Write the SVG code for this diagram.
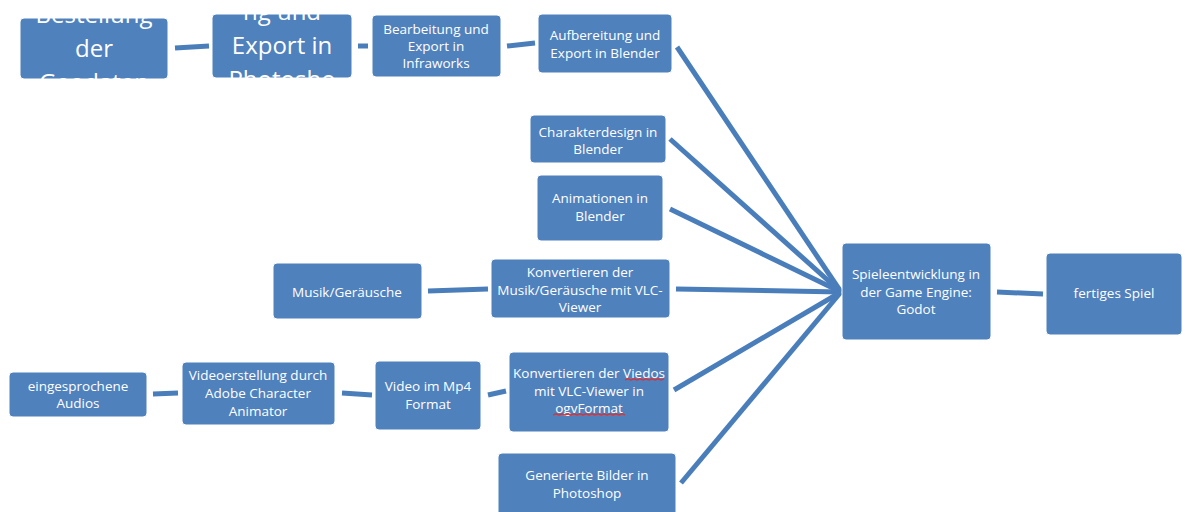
<svg xmlns="http://www.w3.org/2000/svg" width="1192" height="512" viewBox="0 0 1192 512">
<style>
.box{fill:#4F81BD;stroke:#ffffff;stroke-width:1}
.t{font-family:"Open Sans","Liberation Sans",sans-serif;font-size:13.5px;fill:#ffffff;text-anchor:middle}
.big{font-family:"Open Sans","Liberation Sans",sans-serif;font-size:24px;fill:#ffffff;text-anchor:middle}
.c{stroke:#4A7EBB;stroke-width:5;fill:none;stroke-linecap:butt}
.sq{stroke:#e03030;stroke-width:1.3;fill:none}
</style>
<defs>
<clipPath id="clip1"><rect x="20" y="18" width="148" height="61" rx="4"/></clipPath>
<clipPath id="clip2"><rect x="212" y="14" width="140" height="64" rx="4"/></clipPath>
</defs>
<rect width="1192" height="512" fill="#ffffff"/>
<g id="connectors">
<line class="c" x1="175" y1="48" x2="209" y2="46"/>
<line class="c" x1="358" y1="46" x2="368" y2="46"/>
<line class="c" x1="507" y1="46" x2="535" y2="43"/>
<line class="c" x1="677" y1="47" x2="841" y2="292"/>
<line class="c" x1="670" y1="139" x2="841" y2="292"/>
<line class="c" x1="670" y1="209" x2="841" y2="292"/>
<line class="c" x1="676" y1="289" x2="841" y2="292"/>
<line class="c" x1="674" y1="390" x2="841" y2="292"/>
<line class="c" x1="681" y1="483" x2="841" y2="292"/>
<line class="c" x1="428" y1="291" x2="488" y2="289"/>
<line class="c" x1="153" y1="394" x2="178" y2="393"/>
<line class="c" x1="342" y1="393" x2="372" y2="395"/>
<line class="c" x1="488" y1="395" x2="506" y2="391"/>
<line class="c" x1="997" y1="292" x2="1043" y2="294"/>
</g>
<g id="n1">
<rect class="box" x="20" y="18" width="148" height="61" rx="4"/>
<g clip-path="url(#clip1)">
<text class="big" x="94" y="23">Bestellung</text>
<text class="big" x="94" y="57">der</text>
<text class="big" x="94" y="91">Geodaten</text>
</g>
</g>
<g id="n2">
<rect class="box" x="212" y="14" width="140" height="64" rx="4"/>
<g clip-path="url(#clip2)">
<text class="big" x="282" y="20">ng und</text>
<text class="big" x="282" y="54">Export in</text>
<text class="big" x="282" y="88">Photosho</text>
</g>
</g>
<g id="n3">
<rect class="box" x="372" y="15" width="129" height="62" rx="4"/>
<text class="t" x="436" y="34">Bearbeitung und</text>
<text class="t" x="436" y="51">Export in</text>
<text class="t" x="436" y="68">Infraworks</text>
</g>
<g id="n4">
<rect class="box" x="538" y="14" width="134" height="59" rx="4"/>
<text class="t" x="605" y="40">Aufbereitung und</text>
<text class="t" x="605" y="58">Export in Blender</text>
</g>
<g id="n5">
<rect class="box" x="530" y="115" width="136" height="48" rx="4"/>
<text class="t" x="598" y="137">Charakterdesign in</text>
<text class="t" x="598" y="154">Blender</text>
</g>
<g id="n6">
<rect class="box" x="537" y="175" width="126" height="66" rx="4"/>
<text class="t" x="600" y="203">Animationen in</text>
<text class="t" x="600" y="221">Blender</text>
</g>
<g id="n7">
<rect class="box" x="273" y="263" width="149" height="56" rx="4"/>
<text class="t" x="347" y="297">Musik/Geräusche</text>
</g>
<g id="n8">
<rect class="box" x="491" y="259" width="179" height="59" rx="4"/>
<text class="t" x="580" y="277">Konvertieren der</text>
<text class="t" x="580" y="295">Musik/Geräusche mit VLC-</text>
<text class="t" x="580" y="312">Viewer</text>
</g>
<g id="n9">
<rect class="box" x="9" y="372" width="138" height="45" rx="4"/>
<text class="t" x="78" y="391">eingesprochene</text>
<text class="t" x="78" y="408">Audios</text>
</g>
<g id="n10">
<rect class="box" x="182" y="362" width="153" height="63" rx="4"/>
<text class="t" x="258" y="380">Videoerstellung durch</text>
<text class="t" x="258" y="398">Adobe Character</text>
<text class="t" x="258" y="416">Animator</text>
</g>
<g id="n11">
<rect class="box" x="375" y="361" width="106" height="69" rx="4"/>
<text class="t" x="428" y="391">Video im Mp4</text>
<text class="t" x="428" y="409">Format</text>
</g>
<g id="n12">
<rect class="box" x="509" y="352" width="160" height="80" rx="4"/>
<text class="t" x="589" y="378">Konvertieren der Viedos</text>
<text class="t" x="589" y="396">mit VLC-Viewer in</text>
<text class="t" x="589" y="413">ogvFormat</text>
<path class="sq" d="M625 380 l3 -1.2 l3 1.2 l3 -1.2 l3 1.2 l3 -1.2 l3 1.2 l3 -1.2 l3 1.2 l3 -1.2 l3 1.2 l3 -1.2 l3 1.2 l3 -1.2"/>
<path class="sq" d="M553 415 l3 -1.2 l3 1.2 l3 -1.2 l3 1.2 l3 -1.2 l3 1.2 l3 -1.2 l3 1.2 l3 -1.2 l3 1.2 l3 -1.2 l3 1.2 l3 -1.2 l3 1.2 l3 -1.2 l3 1.2 l3 -1.2 l3 1.2 l3 -1.2 l3 1.2 l3 -1.2 l3 1.2 l3 -1.2 l3 1.2"/>
</g>
<g id="n13">
<rect class="box" x="498" y="453" width="178" height="70" rx="4"/>
<text class="t" x="587" y="480">Generierte Bilder in</text>
<text class="t" x="587" y="498">Photoshop</text>
</g>
<g id="n14">
<rect class="box" x="842" y="243" width="149" height="97" rx="4"/>
<text class="t" x="916" y="279">Spieleentwicklung in</text>
<text class="t" x="916" y="297">der Game Engine:</text>
<text class="t" x="916" y="314">Godot</text>
</g>
<g id="n15">
<rect class="box" x="1046" y="253" width="136" height="82" rx="4"/>
<text class="t" x="1114" y="298">fertiges Spiel</text>
</g>
</svg>
